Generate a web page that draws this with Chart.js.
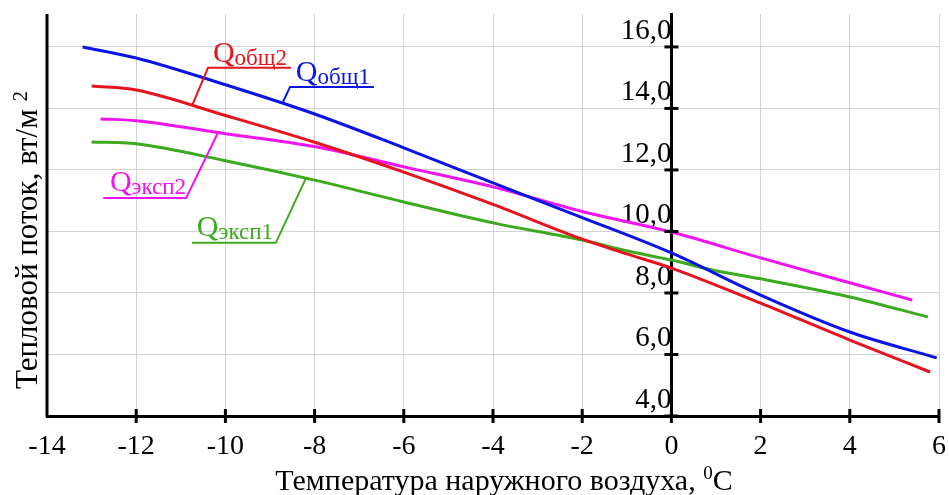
<!DOCTYPE html>
<html>
<head>
<meta charset="utf-8">
<script src="https://cdn.jsdelivr.net/npm/chart.js@4/dist/chart.umd.min.js"></script>
<style>
html, body { margin: 0; padding: 0; background: #fff; }
</style>
</head>
<body>
<canvas id="lineChart" width="949" height="495"></canvas>
<script>
// values
var obsh1X = [-13.2, -12, -10, -8, -6, -4, -2, 0, 2, 4, 5.95];
var obsh1Y = [16.0, 15.64, 14.77, 13.82, 12.72, 11.58, 10.45, 9.3, 7.93, 6.73, 5.89];
var obsh2X = [-13.0, -12, -10, -8, -6, -4, -2, -1, 0, 2, 4, 5.8];
var obsh2Y = [14.73, 14.6, 13.77, 12.9, 11.93, 10.88, 9.75, 9.27, 8.81, 7.67, 6.47, 5.43];
var eksp2X = [-12.8, -12, -10, -8, -6, -4, -2, 0, 2, 4, 5.4];
var eksp2Y = [13.66, 13.6, 13.18, 12.76, 12.1, 11.45, 10.65, 9.98, 9.14, 8.33, 7.77];
var eksp1X = [-13.0, -12, -10, -8, -6, -4, -2, -1, 0, 1, 2, 4, 5.75];
var eksp1Y = [12.91, 12.85, 12.3, 11.67, 10.96, 10.28, 9.72, 9.37, 9.07, 8.72, 8.46, 7.87, 7.22];

var seriesNames = ['общ1', 'общ2', 'эксп2', 'эксп1'];
var xTitle = 'Температура наружного воздуха, ';
var yTitle = 'Тепловой поток, вт/м ';

var blue = '#0a14e6', red = '#e6141e', pink = '#f014f0', green = '#3caa1e';
var serif = "'Liberation Serif', 'Times New Roman', serif";

function pts(xs, ys) {
	var out = [];
	for (var i = 0; i < xs.length; i++) {
		out.push({ x : xs[i], y : ys[i] });
	}
	return out;
}

function ds(name, xs, ys, color) {
	return {
		label : name,
		data : pts(xs, ys),
		showLine : true,
		borderColor : color,
		backgroundColor : color,
		borderWidth : 3,
		pointRadius : 0,
		cubicInterpolationMode : 'monotone',
		fill : false
	};
}

// leader lines and label anchors, in axis units
var callouts = [
	{ name : seriesNames[1], color : red, line : [[-10.75, 14.08], [-10.39, 15.32], [-8.53, 15.32]], at : [-10.28, 15.50] },
	{ name : seriesNames[0], color : blue, line : [[-8.71, 14.21], [-8.55, 14.70], [-6.67, 14.70]], at : [-8.42, 14.88] },
	{ name : seriesNames[2], color : pink, line : [[-10.17, 13.20], [-10.88, 11.09], [-12.74, 11.09]], at : [-12.59, 11.30] },
	{ name : seriesNames[3], color : green, line : [[-8.19, 11.74], [-8.87, 9.63], [-10.75, 9.63]], at : [-10.64, 9.84] }
];

function richText(ctx, parts, x, y) {
	var cx = x;
	for (var i = 0; i < parts.length; i++) {
		ctx.font = parts[i][1] + 'px ' + serif;
		ctx.fillText(parts[i][0], cx, y + parts[i][2]);
		cx += ctx.measureText(parts[i][0]).width;
	}
}

function richWidth(ctx, parts) {
	var w = 0;
	for (var i = 0; i < parts.length; i++) {
		ctx.font = parts[i][1] + 'px ' + serif;
		w += ctx.measureText(parts[i][0]).width;
	}
	return w;
}

var extras = {
	id : 'extras',
	afterDraw : function(chart) {
		var ctx = chart.ctx;
		var a = chart.chartArea;
		var sx = chart.scales.x, sy = chart.scales.y;
		ctx.save();

		// left frame line
		ctx.strokeStyle = '#000';
		ctx.lineWidth = 3;
		ctx.beginPath();
		ctx.moveTo(a.left, a.top);
		ctx.lineTo(a.left, a.bottom + 1);
		ctx.stroke();

		// tick marks crossing the axes
		var x0 = sx.getPixelForValue(0);
		sx.ticks.forEach(function(t) {
			if (t.value <= sx.min) return;
			var px = sx.getPixelForValue(t.value);
			ctx.beginPath();
			ctx.moveTo(px, a.bottom - 7);
			ctx.lineTo(px, a.bottom + 7);
			ctx.stroke();
		});
		sy.ticks.forEach(function(t) {
			var py = sy.getPixelForValue(t.value);
			ctx.beginPath();
			ctx.moveTo(x0 - 7, py);
			ctx.lineTo(x0 + 7, py);
			ctx.stroke();
		});

		// callouts
		callouts.forEach(function(c) {
			ctx.strokeStyle = c.color;
			ctx.lineWidth = 2;
			ctx.beginPath();
			c.line.forEach(function(p, i) {
				var px = sx.getPixelForValue(p[0]), py = sy.getPixelForValue(p[1]);
				if (i == 0) ctx.moveTo(px, py); else ctx.lineTo(px, py);
			});
			ctx.stroke();
			ctx.fillStyle = c.color;
			ctx.textBaseline = 'alphabetic';
			ctx.textAlign = 'left';
			richText(ctx, [['Q', 30, 0], [c.name, 23, 3]],
				sx.getPixelForValue(c.at[0]), sy.getPixelForValue(c.at[1]));
		});

		// axis titles
		ctx.fillStyle = '#000';
		ctx.textAlign = 'left';
		var xt = [[xTitle, 30, 0], ['0', 19, -11], ['C', 30, 0]];
		var w = richWidth(ctx, xt);
		richText(ctx, xt, 504 - w / 2, 490);

		var yt = [[yTitle, 31, 0], ['2', 21, -10]];
		ctx.translate(37, 240);
		ctx.rotate(-Math.PI / 2);
		w = richWidth(ctx, yt);
		richText(ctx, yt, -w / 2, 0);
		ctx.restore();
	}
};

function noPad(scale) {
	scale.paddingTop = 0;
	scale.paddingBottom = 0;
	scale.paddingLeft = 0;
	scale.paddingRight = 0;
}

var lineChart = new Chart(document.getElementById('lineChart'), {
	type : 'scatter',
	data : {
		datasets : [
			ds('Qобщ1', obsh1X, obsh1Y, blue),
			ds('Qобщ2', obsh2X, obsh2Y, red),
			ds('Qэксп2', eksp2X, eksp2Y, pink),
			ds('Qэксп1', eksp1X, eksp1Y, green)
		]
	},
	options : {
		responsive : false,
		animation : false,
		events : [],
		layout : { padding : { left : 47, right : 10, top : 14, bottom : 0 } },
		plugins : { legend : { display : false }, tooltip : { enabled : false } },
		scales : {
			x : {
				type : 'linear',
				min : -14,
				max : 6,
				afterFit : function(scale) { noPad(scale); scale.height = 79; },
				ticks : {
					stepSize : 2,
					color : '#000',
					padding : 14,
					font : { family : serif, size : 28 }
				},
				grid : { color : '#d2d2d2', lineWidth : 1, drawTicks : false },
				border : { color : '#000', width : 3 }
			},
			y : {
				type : 'linear',
				position : { x : 0 },
				min : 4,
				max : 17.07,
				afterFit : noPad,
				ticks : {
					stepSize : 2,
					includeBounds : false,
					color : '#000',
					padding : 8,
					labelOffset : -16,
					font : { family : serif, size : 29 },
					callback : function(v) { return v.toFixed(1).replace('.', ','); }
				},
				grid : { color : '#d2d2d2', lineWidth : 1, drawTicks : false },
				border : { color : '#000', width : 3 }
			}
		}
	},
	plugins : [ extras ]
});
</script>
</body>
</html>
